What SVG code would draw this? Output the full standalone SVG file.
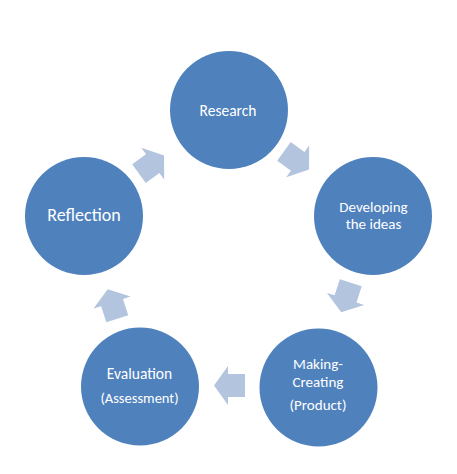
<svg xmlns="http://www.w3.org/2000/svg" width="457" height="474" viewBox="0 0 457 474">
<style>
.node circle{fill:#4F81BD}
.node text{fill:#FFFFFF;font-family:Carlito,Calibri,Lato,"Liberation Sans",sans-serif;text-anchor:middle;font-size:15px}
.arrow{fill:#B3C4DE}
</style>
<defs>
<path id="arr" d="M-15.5,-11.5 L1.5,-11.5 L1.5,-19.5 L15.5,0 L1.5,19.5 L1.5,11.5 L-15.5,11.5 Z"/>
</defs>
<rect width="457" height="474" fill="#FFFFFF"/>
<g id="connectors">
<use href="#arr" class="arrow" transform="translate(296.5,160.5) rotate(36)"/>
<use href="#arr" class="arrow" transform="translate(346,297.5) rotate(108)"/>
<use href="#arr" class="arrow" transform="translate(229.5,385.5) rotate(180)"/>
<use href="#arr" class="arrow" transform="translate(112.5,304) rotate(252)"/>
<use href="#arr" class="arrow" transform="translate(151.5,164.5) rotate(324)"/>
</g>
<g id="research" class="node">
<circle cx="229" cy="110" r="59"/>
<text x="228" y="116" style="font-size:15.5px">Research</text>
</g>
<g id="developing" class="node">
<circle cx="373" cy="216" r="59"/>
<text x="373.5" y="211.5">Developing</text>
<text x="373.5" y="229">the ideas</text>
</g>
<g id="making" class="node">
<circle cx="318.5" cy="387.5" r="59"/>
<text x="318" y="369">Making-</text>
<text x="318" y="386.5">Creating</text>
<text x="318" y="410">(Product)</text>
</g>
<g id="evaluation" class="node">
<circle cx="140" cy="386.5" r="59"/>
<text x="139.5" y="379" style="font-size:15.5px">Evaluation</text>
<text x="139.5" y="403" style="font-size:14.5px">(Assessment)</text>
</g>
<g id="reflection" class="node">
<circle cx="84" cy="216" r="59"/>
<text x="84" y="221" style="font-size:18px">Reflection</text>
</g>
</svg>
